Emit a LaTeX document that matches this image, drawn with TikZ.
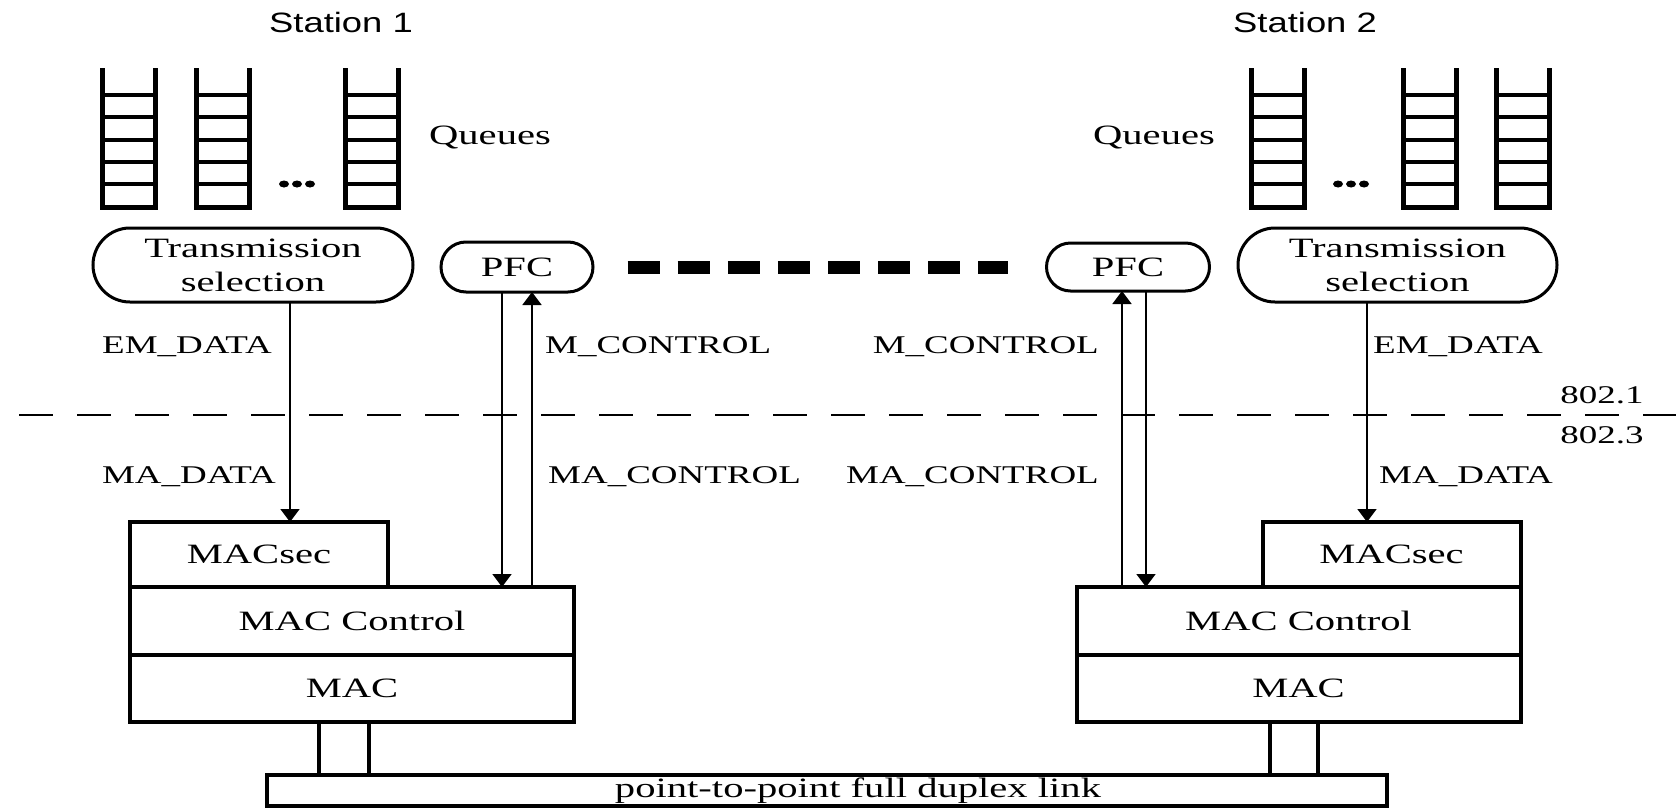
\documentclass[tikz,border=0pt]{standalone}
\usepackage{fontspec}
\setmainfont{Liberation Serif}[FakeStretch=1.45]
\newfontfamily\stationfont{Liberation Sans}[FakeStretch=1.3]
\usepackage{xcolor}
\usepackage{tikz}
\usetikzlibrary{calc}
\usetikzlibrary{arrows.meta}
\usetikzlibrary{positioning}

\begin{document}
\begin{tikzpicture}[x=1pt,y=-1pt]
% 1 = 1px of the drawing, y runs downwards
    \def\LADW{53.5} %width of queues
    \def\LADTOP{68}
    \def\LADBOT{207}
    \def\STACKW{444pt} %width of MAC boxes
    \def\SECW{258pt} %width of MACsec
    \def\LAYERH{67pt}
    \def\SEPY{415} %802.1 / 802.3 border

    \tikzset{
      layer/.style={draw, line width=4pt, outer sep=0pt, inner sep=0pt,
        minimum height=\LAYERH, font=\fontsize{28}{34}\selectfont},
      bubble/.style={draw, line width=3pt, rounded corners=#1, outer sep=0pt,
        inner sep=0pt, align=center, font=\fontsize{28}{34}\selectfont},
      boxtext/.style={inner sep=0pt, font=\fontsize{28}{34}\selectfont},
      lbl/.style={inner sep=0pt, font=\fontsize{25.5}{30}\selectfont},
      sig/.style={line width=1.8pt, -{Triangle[width=19pt,length=13pt]}},
      queue/.style={line width=5pt},
      rung/.style={line width=3.5pt},
      leg/.style={line width=4pt},
    }

    \useasboundingbox (0,0) rectangle (1676,809);

    % STATION NAMES
    \node[inner sep=0pt, font=\stationfont\fontsize{28}{34}\selectfont] (st1) at (341,22) {Station 1};
    \node[inner sep=0pt, font=\stationfont\fontsize{28}{34}\selectfont] (st2) at (1305,22) {Station 2};

    % QUEUES
    \foreach \qx in {102,196,345,1251,1403,1496} {
        \draw[queue] (\qx,\LADTOP) -- (\qx,\LADBOT) -- (\qx+\LADW,\LADBOT) -- (\qx+\LADW,\LADTOP);
        \foreach \ry in {95,117,140,162,184}
            \draw[rung] (\qx,\ry) -- (\qx+\LADW,\ry);
    }
    \foreach \dx in {284,297,310,1338,1351,1364}
        \fill (\dx,184) ellipse (5pt and 3.5pt);
    \node[boxtext] (q1) at (490,137) {Queues};
    \node[boxtext] (q2) at (1154,137) {Queues};

    % TRANSMISSION SELECTION and PFC
    \node[bubble=37pt, minimum width=320pt, minimum height=74pt] (ts1) at (253,265) {Transmission\\selection};
    \node[bubble=25pt, minimum width=152pt, minimum height=50pt] (pfc1) at (517,267) {PFC};
    \node[bubble=24pt, minimum width=163pt, minimum height=48pt] (pfc2) at (1128,267) {PFC};
    \node[bubble=37pt, minimum width=319pt, minimum height=74pt] (ts2) at (1397.5,265) {Transmission\\selection};

    % pause frames between the PFCs
    \draw[line width=13pt, dash pattern=on 32pt off 18.14pt]
        ([xshift=34.5pt]pfc1.east) -- ([xshift=-38.5pt]pfc2.west);

    %border line
    \draw[line width=1.8pt, dash pattern=on 34pt off 24pt] (19,\SEPY) coordinate (sepL) -- (1676,\SEPY) coordinate (sepR);
    \node[lbl] (std1) at (1602,395) {802.1};
    \node[lbl] (std3) at (1602,435) {802.3};

    % FIRST MAC STACK
    \node[layer, minimum width=\STACKW, minimum height=68pt] (ctl1) at (352,621) {MAC Control};
    \node[layer, minimum width=\STACKW, anchor=north] (mac1) at (ctl1.south) {MAC};
    \node[layer, minimum width=\SECW, minimum height=65pt, anchor=south west] (sec1) at (ctl1.north west) {MACsec};

    % SECOND MAC STACK
    \node[layer, minimum width=\STACKW, minimum height=68pt] (ctl2) at (1298.5,621) {MAC Control};
    \node[layer, minimum width=\STACKW, anchor=north] (mac2) at (ctl2.south) {MAC};
    \node[layer, minimum width=\SECW, minimum height=65pt, anchor=south east] (sec2) at (ctl2.north east) {MACsec};

    % LINK
    \node[layer, minimum width=1120pt, minimum height=31pt] (link) at (827,790.5) {};
    \node[boxtext] (linktxt) at ([xshift=31pt]link.center) {point-to-point full duplex link};

    \coordinate (leg1a) at ([xshift=-33pt]mac1.south);
    \coordinate (leg1b) at ([xshift=17pt]mac1.south);
    \coordinate (leg2a) at ([xshift=-28.5pt]mac2.south);
    \coordinate (leg2b) at ([xshift=19.5pt]mac2.south);
    \foreach \lg in {leg1a,leg1b,leg2a,leg2b}
        \draw[leg] (\lg) -- (\lg |- link.north);

    % DATA ARROWS
    \coordinate (em1) at ([xshift=37pt]ts1.south);
    \coordinate (em2) at ([xshift=-30.5pt]ts2.south);
    \draw[sig] (em1) -- (em1 |- sec1.north);
    \draw[sig] (em2) -- (em2 |- sec2.north);

    % CONTROL ARROWS
    \coordinate (pd1) at ([xshift=-15pt]pfc1.south);
    \coordinate (pu1) at ([xshift=15pt]pfc1.south);
    \coordinate (pu2) at ([xshift=-6pt]pfc2.south);
    \coordinate (pd2) at ([xshift=18pt]pfc2.south);
    \draw[sig] (pd1) -- (pd1 |- ctl1.north);
    \draw[sig] (pu1 |- ctl1.north) -- (pu1);
    \draw[sig] (pu2 |- ctl2.north) -- (pu2);
    \draw[sig] (pd2) -- (pd2 |- ctl2.north);

    % LABELS
    \node[lbl, anchor=east] (emd1) at (272,347) {EM\_DATA};
    \node[lbl, anchor=east] (mad1) at (276,477) {MA\_DATA};
    \node[lbl, anchor=west] (mctl1) at (545,347) {M\_CONTROL};
    \node[lbl, anchor=west] (mactl1) at (548,477) {MA\_CONTROL};
    \node[lbl, anchor=east] (mctl2) at (1099,347) {M\_CONTROL};
    \node[lbl, anchor=east] (mactl2) at (1099,477) {MA\_CONTROL};
    \node[lbl, anchor=west] (emd2) at (1373,347) {EM\_DATA};
    \node[lbl, anchor=west] (mad2) at (1379,477) {MA\_DATA};

\end{tikzpicture}
\end{document}
